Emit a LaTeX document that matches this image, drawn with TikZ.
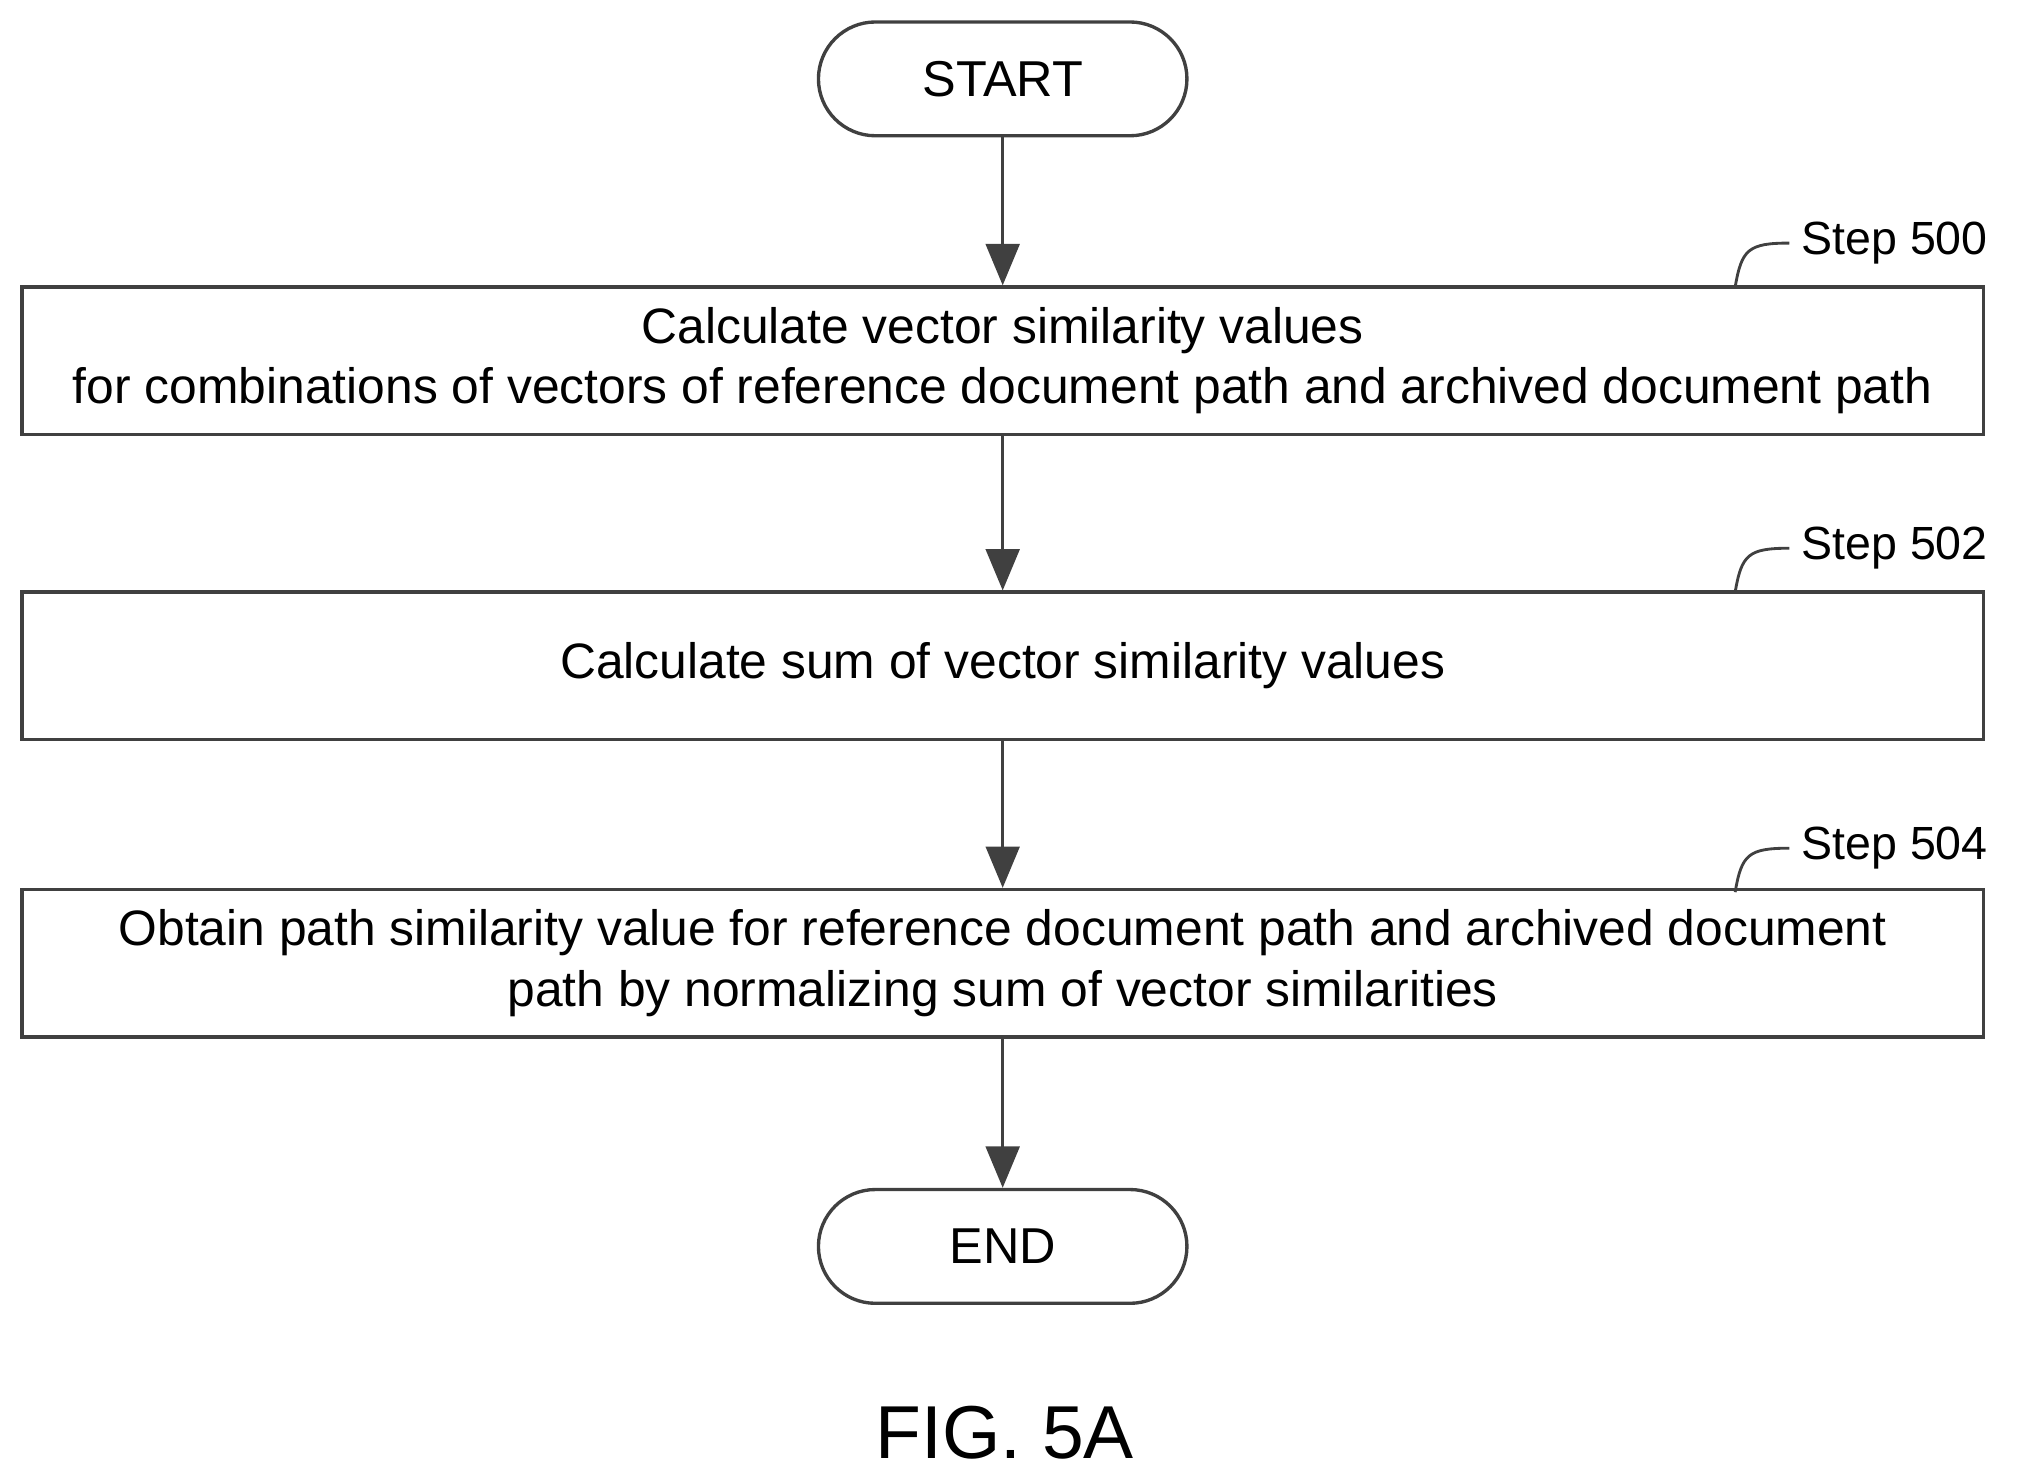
\documentclass[tikz,border=0pt]{standalone}
\usepackage{fontspec}
\setmainfont{Liberation Sans}
\usetikzlibrary{arrows.meta}
\begin{document}
\begin{tikzpicture}[x=1pt,y=-1pt,
  ln/.style={draw=black!75,line width=2.6pt},
  term/.style={ln,rounded corners=44pt,minimum width=285pt,minimum height=88pt,inner sep=0pt,font=\fontsize{39}{44}\selectfont},
  box/.style={ln,minimum width=1517pt,minimum height=114pt,inner sep=0pt,align=center,font=\fontsize{38.5}{47}\selectfont},
  arr/.style={ln,-{Triangle[length=32pt,width=26pt]}},
  stp/.style={font=\fontsize{36}{42}\selectfont,anchor=west,inner sep=0pt},
  lead/.style={draw=black!75,line width=2.2pt}]
\useasboundingbox (0,0) rectangle (1560,1140);
\node[term] (start) at (775.5,61) {START};
\node[box] (b1) at (775.5,279) {Calculate vector similarity values\\for combinations of vectors of reference document path and archived document path};
\node[box] (b2) at (775.5,515) {Calculate sum of vector similarity values};
\node[box] (b3) at (775.5,745) {Obtain path similarity value for reference document path and archived document\\path by normalizing sum of vector similarities};
\node[term] (end) at (775.5,964) {END};
\node[font=\fontsize{58}{64}\selectfont] (fig) at (777,1108) {FIG. 5A};
\draw[arr] (start) -- (b1);
\draw[arr] (b1) -- (b2);
\draw[arr] (b2) -- (b3);
\draw[arr] (b3) -- (end);
\foreach \n/\y/\t in {b1/188/500,b2/424/502,b3/656/504}{
  \node[stp] (s\t) at (1393,\y) {Step \t};
  \coordinate (c\t) at (1342,\y+34);
  \draw[lead] (c\t) .. controls (1347,\y+5) and (1352,\y) .. (1384,\y);
}
\end{tikzpicture}
\end{document}
